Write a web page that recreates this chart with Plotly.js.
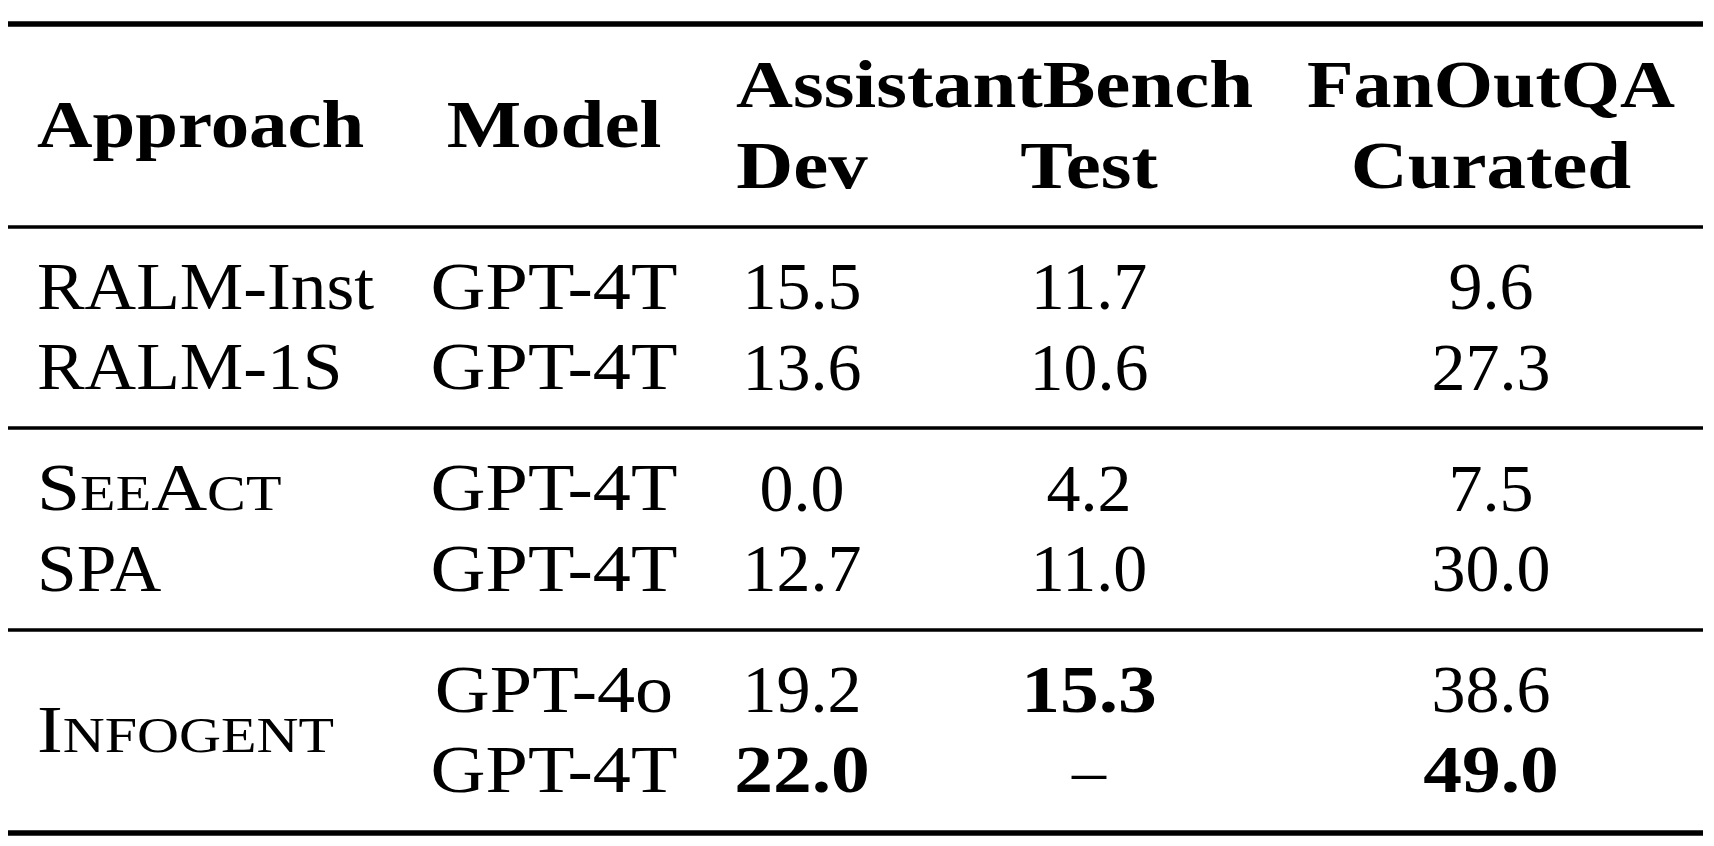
<!DOCTYPE html>
<html><head><meta charset="utf-8">
<script src="https://cdn.plot.ly/plotly-3.0.1.min.js"></script>
<style>html,body{margin:0;padding:0;background:#fff;}#chart{width:1714px;height:846px;}</style>
</head><body><div id="chart"></div>
<script>
// ---------- DATA ----------
const rowApproach = ['RALM-Inst', 'RALM-1S', 'SeeAct', 'SPA', 'Infogent', 'Infogent'];
const rowModel    = ['GPT-4T', 'GPT-4T', 'GPT-4T', 'GPT-4T', 'GPT-4o', 'GPT-4T'];
const rowGroup    = [0, 0, 1, 1, 2, 2];
const abDev       = [15.5, 13.6, 0.0, 12.7, 19.2, 22.0];
const abTest      = [11.7, 10.6, 4.2, 11.0, 15.3, null];
const foqaCurated = [9.6, 27.3, 7.5, 30.0, 38.6, 49.0];
const smallCapsNames = ['SeeAct', 'Infogent'];
const headerTop    = ['AssistantBench', 'FanOutQA'];
const headerBottom = ['Dev', 'Test', 'Curated'];
const headerMain   = ['Approach', 'Model'];
const missingMark  = '–';

// ---------- LAYOUT (positions / styles) ----------
const W = 1714, H = 846;
const FS = 68;                       // main font size
const SC = Math.round(FS * 0.75);    // small-caps size
const FONT = 'Liberation Serif, Times New Roman, serif';
const colX = { approach: 37, model: 554, dev: 802, test: 1089, cur: 1491, abLeft: 736 };
const firstBaseline = 309, rowPitch = 80.5, groupGap = 40.5;
const headBase = { top: 107, mid: 147, bottom: 188 };
const rules = [ {y: 24, w: 5.5}, {y: 227, w: 3.5}, {y: 428, w: 3.5}, {y: 630, w: 3.5}, {y: 833, w: 5.5} ];
const ruleX = [8, 1703];
// horizontal glyph widening (Computer Modern is wider than Times)
const widen = { approachDefault: 1.05, approachSmallCaps: 1.14, model: 1.12, value: 1.0, valueBold: 1.14,
  header: 1.16, headerApproach: 1.13, headerFanOut: 1.12 };

const rowBaseline = rowApproach.map((_, i) => firstBaseline + i * rowPitch + rowGroup[i] * groupGap);
const py = b => b - 0.25 * FS;   // plotly middle text: baseline = y + 0.25*fs

function smallCaps(name) {
  if (!smallCapsNames.includes(name)) return name;
  let out = '', buf = '';
  for (const ch of name) {
    if (ch === ch.toUpperCase()) {
      if (buf) { out += '<span style="font-size:' + SC + 'px">' + buf.toUpperCase() + '</span>'; buf = ''; }
      out += ch;
    } else buf += ch;
  }
  if (buf) out += '<span style="font-size:' + SC + 'px">' + buf.toUpperCase() + '</span>';
  return out;
}
function colMax(vals) { return Math.max(...vals.filter(v => v !== null)); }
function fmtCol(vals) {
  const mx = colMax(vals);
  return vals.map(v => v === null ? missingMark : (v === mx ? '<b>' + v.toFixed(1) + '</b>' : v.toFixed(1)));
}
function widenCol(vals) {
  const mx = colMax(vals);
  return vals.map(v => v === mx ? widen.valueBold : widen.value);
}

const uniq = [...new Set(rowApproach)];
const apY = uniq.map(a => {
  const bs = rowBaseline.filter((_, i) => rowApproach[i] === a);
  return py(bs.reduce((s, v) => s + v, 0) / bs.length);
});

const font = {family: FONT, size: FS, color: '#000'};
const base = {type: 'scatter', mode: 'text', hoverinfo: 'skip', showlegend: false, textfont: font, cliponaxis: false};
const rowsY = rowBaseline.map(py);

const traces = [], widths = [];
function add(t, w) { traces.push(Object.assign({}, base, t)); widths.push(w); }

add({x: uniq.map(() => colX.approach), y: apY, text: uniq.map(smallCaps), textposition: 'middle right'},
    uniq.map(a => smallCapsNames.includes(a) ? widen.approachSmallCaps : widen.approachDefault));
add({x: rowModel.map(() => colX.model), y: rowsY, text: rowModel, textposition: 'middle center'}, rowModel.map(() => widen.model));
add({x: abDev.map(() => colX.dev), y: rowsY, text: fmtCol(abDev), textposition: 'middle center'}, widenCol(abDev));
add({x: abTest.map(() => colX.test), y: rowsY, text: fmtCol(abTest), textposition: 'middle center'}, widenCol(abTest));
add({x: foqaCurated.map(() => colX.cur), y: rowsY, text: fmtCol(foqaCurated), textposition: 'middle center'}, widenCol(foqaCurated));
// headers
add({x: [colX.approach], y: [py(headBase.mid)], text: ['<b>' + headerMain[0] + '</b>'], textposition: 'middle right'}, [widen.headerApproach]);
add({x: [colX.model], y: [py(headBase.mid)], text: ['<b>' + headerMain[1] + '</b>'], textposition: 'middle center'}, [widen.header]);
add({x: [colX.abLeft], y: [py(headBase.top)], text: ['<b>' + headerTop[0] + '</b>'], textposition: 'middle right'}, [widen.header]);
add({x: [colX.cur], y: [py(headBase.top)], text: ['<b>' + headerTop[1] + '</b>'], textposition: 'middle center'}, [widen.headerFanOut]);
add({x: [colX.dev, colX.test, colX.cur], y: headerBottom.map(() => py(headBase.bottom)),
     text: headerBottom.map(h => '<b>' + h + '</b>'), textposition: 'middle center'}, headerBottom.map(() => widen.header));

const shapes = rules.map(r => ({type: 'line', xref: 'x', yref: 'y', x0: ruleX[0], x1: ruleX[1], y0: r.y, y1: r.y,
  line: {color: '#000', width: r.w}}));

const axis = {visible: false, showgrid: false, zeroline: false, fixedrange: true};
const layout = {
  width: W, height: H,
  margin: {l: 0, r: 0, t: 0, b: 0, pad: 0},
  paper_bgcolor: '#fff', plot_bgcolor: '#fff',
  xaxis: Object.assign({range: [0, W]}, axis),
  yaxis: Object.assign({range: [H, 0]}, axis),
  shapes: shapes,
  showlegend: false
};
Plotly.newPlot('chart', traces, layout, {displayModeBar: false, staticPlot: true}).then(gd => {
  const trGroups = gd.querySelectorAll('.scatterlayer .trace');
  trGroups.forEach((g, ti) => {
    const texts = g.querySelectorAll('.textpoint text');
    texts.forEach((t, pi) => {
      const s = (widths[ti] || [])[pi] || 1;
      if (s === 1) return;
      const x = parseFloat(t.getAttribute('x')) || 0;
      t.setAttribute('transform', 'translate(' + x + ',0) scale(' + s + ',1) translate(' + (-x) + ',0)');
    });
  });
});
</script></body></html>
